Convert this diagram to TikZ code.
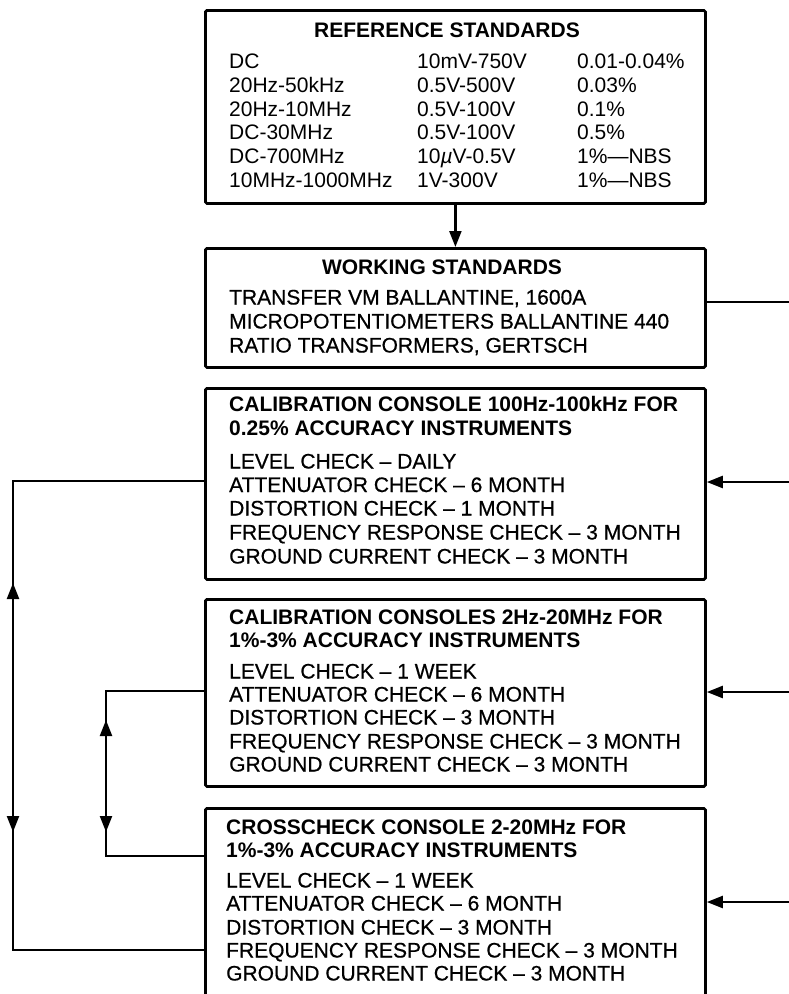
\documentclass[tikz,border=0pt]{standalone}
\usepackage{fontspec}
\setmainfont{Liberation Sans}
\newfontfamily\medfont[FakeBold=0.6]{Liberation Sans}
\usetikzlibrary{arrows.meta,decorations.markings}
\begin{document}
\begin{tikzpicture}[x=1pt,y=-1pt,
  box/.style={draw,line width=2.8pt,rounded corners=1.5pt,minimum width=500pt,anchor=north west,inner sep=0pt},
  conn/.style={line width=2.3pt},
  tip/.style={-{Triangle[length=16pt,width=12pt]}},
  tab/.style={anchor=base west,inner sep=0pt,font=\fontsize{21}{24}\selectfont},
  txt/.style={anchor=base west,inner sep=0pt,font=\medfont\fontsize{21}{24}\selectfont},
  ttl/.style={anchor=base west,inner sep=0pt,font=\fontsize{21}{24}\selectfont\bfseries},
  ctl/.style={anchor=base,inner sep=0pt,font=\fontsize{21}{24}\selectfont\bfseries},
]
\useasboundingbox (0,0) rectangle (788,994);
\fill[white] (0,0) rectangle (788,994);

% boxes
\node[box,minimum height=193pt] (B1) at (204,9) {};
\node[box,minimum height=119pt] (B2) at (204,247) {};
\node[box,minimum height=191pt] (B3) at (204,387) {};
\node[box,minimum height=187pt] (B4) at (204,598) {};
\node[box,minimum height=230pt] (B5) at (204,807) {};

% box 1 text
\node[ctl] (t1) at (447,37.5) {REFERENCE STANDARDS};
\node[tab] (r1a) at (229,68.5) {DC};
\node[tab] (r1b) at (417,68.5) {10mV-750V};
\node[tab] (r1c) at (577,68.5) {0.01-0.04\%};
\node[tab] (r2a) at (229,92.3) {20Hz-50kHz};
\node[tab] (r2b) at (417,92.3) {0.5V-500V};
\node[tab] (r2c) at (577,92.3) {0.03\%};
\node[tab] (r3a) at (229,116.1) {20Hz-10MHz};
\node[tab] (r3b) at (417,116.1) {0.5V-100V};
\node[tab] (r3c) at (577,116.1) {0.1\%};
\node[tab] (r4a) at (229,139.9) {DC-30MHz};
\node[tab] (r4b) at (417,139.9) {0.5V-100V};
\node[tab] (r4c) at (577,139.9) {0.5\%};
\node[tab] (r5a) at (229,163.7) {DC-700MHz};
\node[tab] (r5b) at (417,163.7) {10{\itshape µ}V-0.5V};
\node[tab] (r5c) at (577,163.7) {1\%—NBS};
\node[tab] (r6a) at (229,187.5) {10MHz-1000MHz};
\node[tab] (r6b) at (417,187.5) {1V-300V};
\node[tab] (r6c) at (577,187.5) {1\%—NBS};

% box 2 text
\node[ctl] (t2) at (442,274.5) {WORKING STANDARDS};
\node[txt] (w1) at (229,304.5) {TRANSFER VM BALLANTINE, 1600A};
\node[txt] (w2) at (229,328.5) {MICROPOTENTIOMETERS BALLANTINE 440};
\node[txt] (w3) at (229,352.5) {RATIO TRANSFORMERS, GERTSCH};

% box 3 text
\node[ttl] (t3a) at (229,411.5) {CALIBRATION CONSOLE 100Hz-100kHz FOR};
\node[ttl] (t3b) at (229,435.5) {0.25\% ACCURACY INSTRUMENTS};
\node[txt] (c1) at (229,468.5) {LEVEL CHECK – DAILY};
\node[txt] (c2) at (229,492) {ATTENUATOR CHECK – 6 MONTH};
\node[txt] (c3) at (229,515.5) {DISTORTION CHECK – 1 MONTH};
\node[txt] (c4) at (229,539.5) {FREQUENCY RESPONSE CHECK – 3 MONTH};
\node[txt] (c5) at (229,563.5) {GROUND CURRENT CHECK – 3 MONTH};

% box 4 text
\node[ttl] (t4a) at (229,624.5) {CALIBRATION CONSOLES 2Hz-20MHz FOR};
\node[ttl] (t4b) at (229,647.5) {1\%-3\% ACCURACY INSTRUMENTS};
\node[txt] (d1) at (229,678.5) {LEVEL CHECK – 1 WEEK};
\node[txt] (d2) at (229,701.5) {ATTENUATOR CHECK – 6 MONTH};
\node[txt] (d3) at (229,724.5) {DISTORTION CHECK – 3 MONTH};
\node[txt] (d4) at (229,748.5) {FREQUENCY RESPONSE CHECK – 3 MONTH};
\node[txt] (d5) at (229,771.5) {GROUND CURRENT CHECK – 3 MONTH};

% box 5 text
\node[ttl] (t5a) at (226,834.5) {CROSSCHECK CONSOLE 2-20MHz FOR};
\node[ttl] (t5b) at (226,857.5) {1\%-3\% ACCURACY INSTRUMENTS};
\node[txt] (e1) at (226,887.5) {LEVEL CHECK – 1 WEEK};
\node[txt] (e2) at (226,910.5) {ATTENUATOR CHECK – 6 MONTH};
\node[txt] (e3) at (226,934.5) {DISTORTION CHECK – 3 MONTH};
\node[txt] (e4) at (226,957.5) {FREQUENCY RESPONSE CHECK – 3 MONTH};
\node[txt] (e5) at (226,980.5) {GROUND CURRENT CHECK – 3 MONTH};

% top arrow
\draw[conn,tip] (B1.south) -- (B2.north);

% right side feed
\coordinate (rA) at (794,302);
\coordinate (rB) at (794,482);
\coordinate (rC) at (794,692);
\coordinate (rD) at (794,902);
\draw[conn] (B2.east |- rA) -- (rA) -- (rD);
\draw[conn,tip] (rB) -- (B3.east |- rB);
\draw[conn,tip] (rC) -- (B4.east |- rC);
\draw[conn,tip] (rD) -- (B5.east |- rD);

% left loops
\coordinate (lA) at (13,481);
\coordinate (lB) at (13,950);
\coordinate (mA) at (106,691);
\coordinate (mB) at (106,856);
\draw[conn,postaction={decorate},decoration={markings,
   mark=at position 293pt with {\arrowreversed{Triangle[length=16pt,width=12pt]}},
   mark=at position 542pt with {\arrow{Triangle[length=16pt,width=12pt]}}}]
  (B3.west |- lA) -- (lA) -- (lB) -- (B5.west |- lB);
\draw[conn,postaction={decorate},decoration={markings,
   mark=at position 127pt with {\arrowreversed{Triangle[length=16pt,width=12pt]}},
   mark=at position 239pt with {\arrow{Triangle[length=16pt,width=12pt]}}}]
  (B4.west |- mA) -- (mA) -- (mB) -- (B5.west |- mB);
\end{tikzpicture}
\end{document}
